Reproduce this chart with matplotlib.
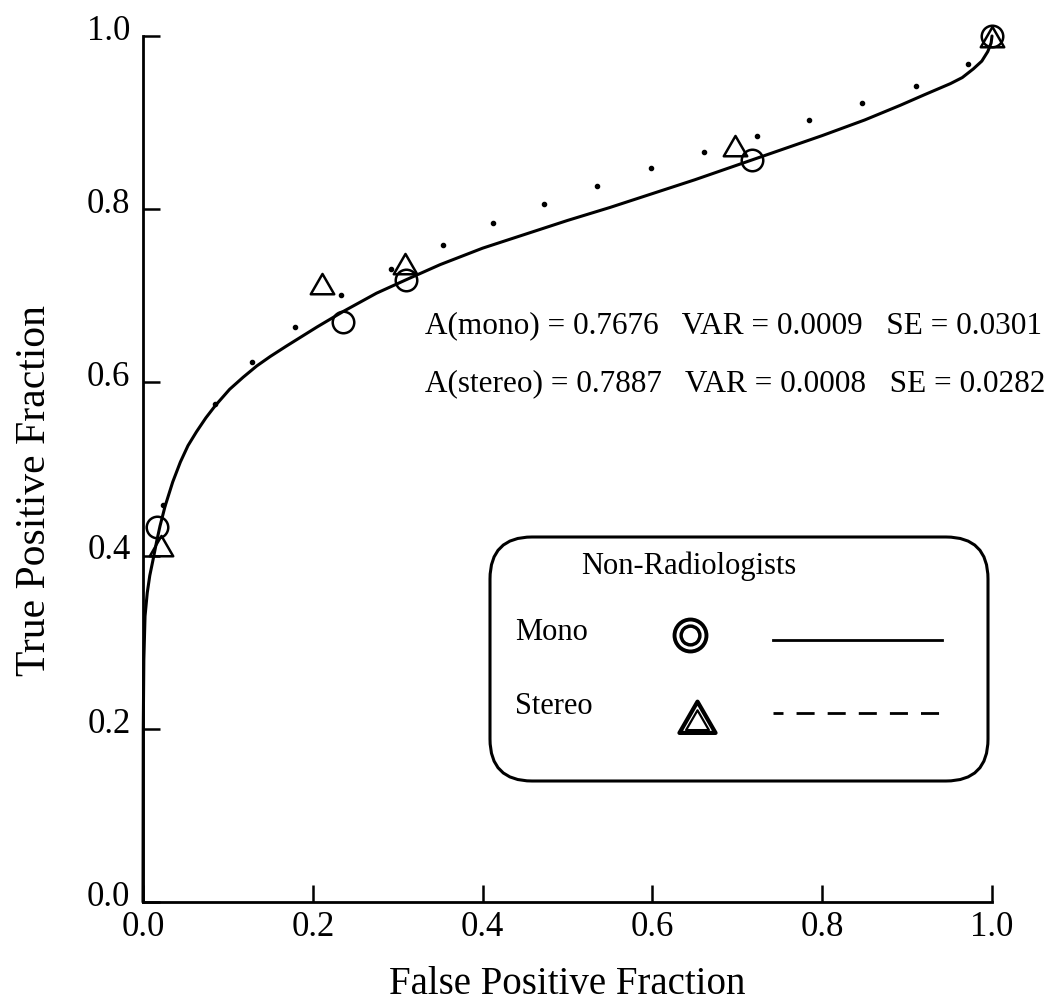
import matplotlib
matplotlib.use('Agg')
import matplotlib.pyplot as plt
from matplotlib.patches import FancyBboxPatch
from matplotlib.path import Path
from matplotlib.transforms import ScaledTranslation

plt.rcParams['font.family'] = ['Liberation Serif', 'DejaVu Serif']

# ---------------- data ----------------
tick_values = [0.0, 0.2, 0.4, 0.6, 0.8, 1.0]
tick_labels = ['0.0', '0.2', '0.4', '0.6', '0.8', '1.0']

# observed operating points
mono_fpf = [0.016, 0.236, 0.310, 0.717, 1.0]
mono_tpf = [0.433, 0.670, 0.718, 0.857, 1.0]
stereo_fpf = [0.021, 0.211, 0.309, 0.697, 1.0]
stereo_tpf = [0.408, 0.710, 0.733, 0.870, 0.995]

# fitted ROC curve (mono)
mono_curve_fpf = [0.0, 0.0003, 0.001, 0.0024, 0.005, 0.008, 0.012, 0.016, 0.020, 0.026,
                  0.035, 0.044, 0.053, 0.063, 0.074, 0.085, 0.102, 0.118, 0.134, 0.150,
                  0.169, 0.187, 0.205, 0.236, 0.275, 0.311, 0.35, 0.40, 0.45, 0.50,
                  0.55, 0.60, 0.65, 0.70, 0.75, 0.80, 0.85, 0.892, 0.92, 0.951, 0.965,
                  0.978, 0.988, 0.995, 0.999, 1.0]
mono_curve_tpf = [0.0, 0.20, 0.28, 0.33, 0.357, 0.377, 0.396, 0.416, 0.434, 0.457,
                  0.485, 0.508, 0.527, 0.543, 0.559, 0.573, 0.592, 0.606, 0.619, 0.630,
                  0.642, 0.653, 0.664, 0.682, 0.703, 0.719, 0.736, 0.755, 0.771, 0.787,
                  0.802, 0.818, 0.834, 0.851, 0.868, 0.885, 0.903, 0.920, 0.932, 0.945,
                  0.952, 0.962, 0.971, 0.982, 0.992, 1.0]

# fitted ROC curve (stereo), the visible dots of the dotted line
stereo_curve_fpf = [0.024, 0.085, 0.128, 0.179, 0.233, 0.292, 0.353, 0.412, 0.472,
                    0.535, 0.598, 0.661, 0.723, 0.784, 0.847, 0.910, 0.972]
stereo_curve_tpf = [0.458, 0.575, 0.623, 0.664, 0.701, 0.731, 0.759, 0.784, 0.806,
                    0.827, 0.847, 0.866, 0.885, 0.903, 0.923, 0.942, 0.968]

stat_lines = ['A(mono) = 0.7676   VAR = 0.0009   SE = 0.0301',
              'A(stereo) = 0.7887   VAR = 0.0008   SE = 0.0282']
legend_title = 'Non-Radiologists'
legend_names = ['Mono', 'Stereo']
x_label = 'False Positive Fraction'
y_label = 'True Positive Fraction'

# ---------------- figure ----------------
W, H = 1050, 1003
fig = plt.figure(figsize=(W / 100, H / 100), dpi=100)
ax = fig.add_axes([143 / W, 1 - 903 / H, (992 - 143) / W, (903 - 37) / H])
ax.set_xlim(0, 1)
ax.set_ylim(0, 1)
for s in ['top', 'right']:
    ax.spines[s].set_visible(False)
for s in ['left', 'bottom']:
    ax.spines[s].set_linewidth(2.0)
ax.set_xticks(tick_values)
ax.set_xticklabels(tick_labels)
ax.set_yticks(tick_values)
ax.set_yticklabels(tick_labels)
ax.tick_params(direction='in', length=12.5, width=1.8, labelsize=25)
ax.tick_params(axis='x', pad=6)
ax.tick_params(axis='y', pad=9)
shift = ScaledTranslation(0, 7 / 72, fig.dpi_scale_trans)
for lab in ax.get_yticklabels():
    lab.set_transform(lab.get_transform() + shift)

ax.set_xlabel(x_label, fontsize=28)
ax.xaxis.label.set_va('center')
ax.xaxis.set_label_coords(0.5, -(985 - 903) / 866)
ax.set_ylabel(y_label, fontsize=30)
ax.yaxis.label.set_va('center')
ax.yaxis.set_label_coords((35 - 143) / 849, (903 - 490) / 866)

tri = Path([(0, 1), (-0.866, -0.5), (0.866, -0.5), (0, 1)],
           [Path.MOVETO, Path.LINETO, Path.LINETO, Path.CLOSEPOLY])

ax.plot(mono_curve_fpf, mono_curve_tpf, color='k', lw=2.2, clip_on=False,
        solid_capstyle='round', solid_joinstyle='round')
ax.plot(stereo_curve_fpf, stereo_curve_tpf, ls='none', marker='o', ms=3.0,
        color='k', clip_on=False)
ax.plot(mono_fpf, mono_tpf, ls='none', marker='o', ms=15.5, mfc='none',
        mec='k', mew=1.8, clip_on=False)
ax.plot(stereo_fpf, stereo_tpf, ls='none', marker=tri, ms=19.5, mfc='none',
        mec='k', mew=1.8, clip_on=False)

# ---------------- overlay in pixel coordinates ----------------
ov = fig.add_axes([0, 0, 1, 1], facecolor='none')
ov.set_xlim(0, W)
ov.set_ylim(H, 0)
ov.axis('off')

ov.text(425, 326, stat_lines[0], fontsize=22.5, ha='left', va='center')
ov.text(425, 384, stat_lines[1], fontsize=22.5, ha='left', va='center')

box = FancyBboxPatch((490, 538), 498, 244,
                     boxstyle='round,pad=0,rounding_size=42',
                     lw=2.2, ec='k', fc='none')
ov.add_patch(box)
ov.text(689, 566, legend_title, fontsize=22, ha='center', va='center')
ov.text(515, 633, legend_names[0], fontsize=22, ha='left', va='center')
ov.text(515, 706, legend_names[1], fontsize=22, ha='left', va='center')

# legend markers (double outlines)
ov.plot([690], [636], marker='o', ms=23, mfc='none', mec='k', mew=2.8)
ov.plot([690], [636], marker='o', ms=13.5, mfc='none', mec='k', mew=2.5)
ov.plot([697], [723], marker=tri, ms=30, mfc='none', mec='k', mew=3.0)
ov.plot([697], [724], marker=tri, ms=19, mfc='none', mec='k', mew=1.6)

ov.plot([773, 942], [641, 641], color='k', lw=2.0)
ov.plot([773, 942], [714, 714], color='k', lw=2.0, ls=(2.9, (6.5, 4.7)))

fig.savefig('out.png', dpi=100)
